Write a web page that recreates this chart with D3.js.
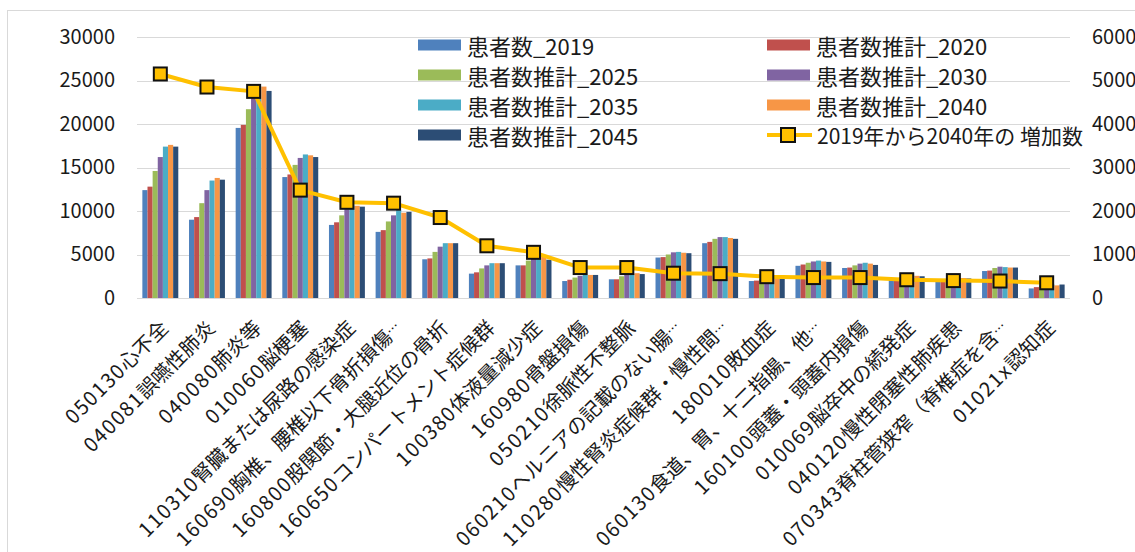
<!DOCTYPE html>
<html>
<head>
<meta charset="utf-8">
<script src="https://cdn.jsdelivr.net/npm/d3@7/dist/d3.min.js"></script>
<style>
  html, body { margin: 0; padding: 0; background: #fff; }
  svg { display: block; }
  text { font-family: "Noto Sans CJK JP", "Noto Sans", sans-serif; fill: #1a1a1a; }
</style>
</head>
<body>
<svg id="chart" width="1135" height="552"></svg>
<script>
// DPC categories (diagnosis code + name)
const categories = [
  "050130心不全",
  "040081誤嚥性肺炎",
  "040080肺炎等",
  "010060脳梗塞",
  "110310腎臓または尿路の感染症",
  "160690胸椎、腰椎以下骨折損傷…",
  "160800股関節・大腿近位の骨折",
  "160650コンパートメント症候群",
  "100380体液量減少症",
  "160980骨盤損傷",
  "050210徐脈性不整脈",
  "060210ヘルニアの記載のない腸…",
  "110280慢性腎炎症候群・慢性間…",
  "180010敗血症",
  "060130食道、胃、十二指腸、他…",
  "160100頭蓋・頭蓋内損傷",
  "010069脳卒中の続発症",
  "040120慢性閉塞性肺疾患",
  "070343脊柱管狭窄（脊椎症を含…",
  "01021x認知症"
];

// Patient counts by year (left axis)
const patients2019 = [12400, 9000, 19550, 13900, 8400, 7600, 4450, 2800, 3750, 1950, 2150, 4650, 6300, 1950, 3700, 3450, 2150, 1900, 3100, 1100];
const patients2020 = [12800, 9300, 19900, 14200, 8700, 7800, 4550, 2950, 3750, 2100, 2150, 4700, 6450, 2000, 3850, 3500, 2200, 1950, 3150, 1250];
const patients2025 = [14600, 10900, 21700, 15300, 9500, 8800, 5300, 3400, 4300, 2350, 2500, 5000, 6800, 2200, 4050, 3750, 2400, 2100, 3450, 1450];
const patients2030 = [16200, 12400, 23000, 16100, 10200, 9500, 5900, 3750, 4550, 2550, 2650, 5250, 7000, 2350, 4200, 3950, 2500, 2200, 3600, 1600];
const patients2035 = [17400, 13500, 24300, 16500, 10600, 10100, 6300, 4000, 4650, 2650, 2800, 5300, 7000, 2400, 4300, 4050, 2550, 2300, 3550, 1550];
const patients2040 = [17600, 13800, 24300, 16400, 10600, 9800, 6300, 4000, 4800, 2650, 2850, 5200, 6900, 2450, 4200, 3950, 2550, 2300, 3500, 1450];
const patients2045 = [17400, 13600, 23800, 16200, 10500, 9900, 6300, 4000, 4400, 2650, 2750, 5150, 6800, 2300, 4150, 3800, 2500, 2250, 3500, 1550];

// Increase 2019 -> 2040 (right axis)
const increase = [5150, 4850, 4750, 2480, 2200, 2180, 1850, 1200, 1050, 700, 700, 570, 560, 490, 470, 470, 420, 400, 390, 350];

const seriesNames = ["患者数_2019", "患者数推計_2020", "患者数推計_2025", "患者数推計_2030", "患者数推計_2035", "患者数推計_2040", "患者数推計_2045"];
const seriesValues = [patients2019, patients2020, patients2025, patients2030, patients2035, patients2040, patients2045];
const seriesColors = ["#4F81BD", "#C0504D", "#9BBB59", "#8064A2", "#4BACC6", "#F79646", "#2C4D75"];
const lineName = "2019年から2040年の 増加数";
const lineColor = "#FFC000";

const leftTicks = [0, 5000, 10000, 15000, 20000, 25000, 30000];
const rightTicks = [0, 1000, 2000, 3000, 4000, 5000, 6000];

const svg = d3.select("#chart");

// outer chart frame
svg.append("rect")
  .attr("x", 7.5).attr("y", 10.5)
  .attr("width", 1300).attr("height", 700)
  .attr("fill", "#fff").attr("stroke", "#d9d9d9").attr("stroke-width", 1);

const plot = { left: 137, right: 1070, top: 37, bottom: 298 };

const x0 = d3.scaleBand().domain(categories).range([plot.left, plot.right]).padding(0);
const groupW = x0.step() * 0.77;
const x1 = d3.scaleBand().domain(seriesNames).range([0, groupW]).padding(0);
const yL = d3.scaleLinear().domain([0, 30000]).range([plot.bottom, plot.top]);
const yR = d3.scaleLinear().domain([0, 6000]).range([plot.bottom, plot.top]);

// gridlines
svg.append("g")
  .selectAll("line").data(leftTicks).join("line")
  .attr("x1", plot.left).attr("x2", plot.right)
  .attr("y1", d => Math.round(yL(d)) + 0.5).attr("y2", d => Math.round(yL(d)) + 0.5)
  .attr("stroke", "#d9d9d9").attr("stroke-width", 1);

// left axis
const axisL = svg.append("g")
  .attr("transform", `translate(${plot.left - 22},0)`)
  .call(d3.axisLeft(yL).tickValues(leftTicks).tickSize(0).tickPadding(0).tickFormat(d3.format("d")));
axisL.select(".domain").remove();
axisL.selectAll("text").attr("font-size", 20).attr("fill", "#1a1a1a")
  .attr("font-family", "'Noto Sans CJK JP', 'Noto Sans', sans-serif");

// right axis
const axisR = svg.append("g")
  .attr("transform", `translate(${plot.right + 22},0)`)
  .call(d3.axisRight(yR).tickValues(rightTicks).tickSize(0).tickPadding(0).tickFormat(d3.format("d")));
axisR.select(".domain").remove();
axisR.selectAll("text").attr("font-size", 20).attr("fill", "#1a1a1a")
  .attr("font-family", "'Noto Sans CJK JP', 'Noto Sans', sans-serif");

// bars
const barRows = categories.map((c, i) => ({ cat: c, vals: seriesNames.map((s, k) => ({ s, v: seriesValues[k][i], color: seriesColors[k] })) }));
svg.append("g").selectAll("g").data(barRows).join("g")
  .attr("transform", d => `translate(${x0(d.cat) + (x0.step() - groupW) / 2},0)`)
  .selectAll("rect").data(d => d.vals).join("rect")
  .attr("x", d => x1(d.s))
  .attr("width", x1.bandwidth())
  .attr("y", d => yL(d.v))
  .attr("height", d => yL(0) - yL(d.v))
  .attr("fill", d => d.color);

// increase line with square markers
const cx = c => x0(c) + x0.step() / 2;
svg.append("path")
  .datum(categories.map((c, i) => [cx(c), yR(increase[i])]))
  .attr("d", d3.line())
  .attr("fill", "none").attr("stroke", lineColor).attr("stroke-width", 4).attr("stroke-linejoin", "round");
const mk = 13;
svg.append("g").selectAll("rect").data(categories).join("rect")
  .attr("x", (c) => cx(c) - mk / 2)
  .attr("y", (c, i) => yR(increase[i]) - mk / 2)
  .attr("width", mk).attr("height", mk)
  .attr("fill", lineColor).attr("stroke", "#111").attr("stroke-width", 2);

// category labels, rotated: code part set a little wider, trailing ellipsis compact
const labels = svg.append("g").selectAll("text").data(categories).join("text")
  .attr("transform", c => `translate(${cx(c) + 3},${323}) rotate(-45)`)
  .attr("text-anchor", "end")
  .attr("dominant-baseline", "central")
  .attr("font-size", 20);
labels.each(function (c) {
  const t = d3.select(this);
  const code = c.slice(0, 6);
  let name = c.slice(6);
  const cut = name.endsWith("…");
  if (cut) name = name.slice(0, -1);
  t.append("tspan").attr("letter-spacing", 1.5).text(code);
  t.append("tspan").attr("letter-spacing", 0).text(name);
  if (cut) t.append("tspan").attr("font-size", 13).text("…");
});

// legend
const legendItems = [
  { name: seriesNames[0], color: seriesColors[0], col: 0, row: 0 },
  { name: seriesNames[1], color: seriesColors[1], col: 1, row: 0 },
  { name: seriesNames[2], color: seriesColors[2], col: 0, row: 1 },
  { name: seriesNames[3], color: seriesColors[3], col: 1, row: 1 },
  { name: seriesNames[4], color: seriesColors[4], col: 0, row: 2 },
  { name: seriesNames[5], color: seriesColors[5], col: 1, row: 2 },
  { name: seriesNames[6], color: seriesColors[6], col: 0, row: 3 },
  { name: lineName, color: lineColor, col: 1, row: 3, line: true }
];
const colX = [418, 767];
const rowY = r => 45 + r * 30;
const lg = svg.append("g").selectAll("g").data(legendItems).join("g")
  .attr("transform", d => `translate(${colX[d.col]},${rowY(d.row)})`);
lg.filter(d => !d.line).append("rect")
  .attr("x", 0).attr("y", -5.5).attr("width", 43).attr("height", 11)
  .attr("fill", d => d.color);
const ll = lg.filter(d => d.line);
ll.append("line").attr("x1", 0).attr("x2", 45).attr("y1", 0).attr("y2", 0)
  .attr("stroke", lineColor).attr("stroke-width", 4);
ll.append("rect").attr("x", 21 - 7).attr("y", -7).attr("width", 14).attr("height", 14)
  .attr("fill", lineColor).attr("stroke", "#111").attr("stroke-width", 2);
lg.append("text")
  .attr("x", d => d.line ? 50 : 49)
  .attr("y", 0)
  .attr("dominant-baseline", "central")
  .attr("font-size", d => d.line ? 21 : 22)
  .text(d => d.name);
</script>
</body>
</html>
